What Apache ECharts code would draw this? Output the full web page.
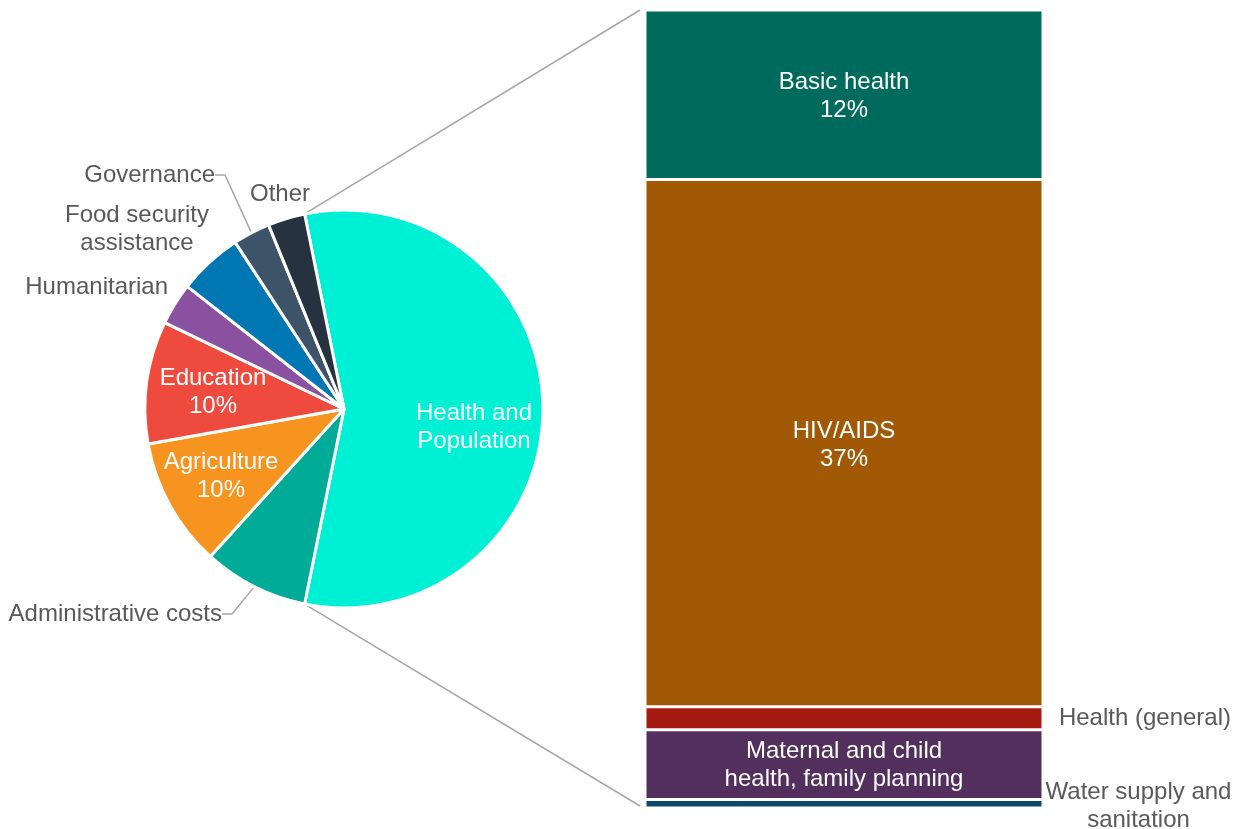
<!DOCTYPE html>
<html>
<head>
<meta charset="utf-8">
<script src="https://cdn.jsdelivr.net/npm/echarts@6/dist/echarts.min.js"></script>
<style>
  html, body { margin: 0; padding: 0; background: #fff; }
  #main { width: 1236px; height: 829px; }
</style>
</head>
<body>
<div id="main"></div>
<script>
// pie: sectors of total aid
var pieNames = ['Health and Population', 'Administrative costs', 'Agriculture', 'Education',
    'Humanitarian', 'Food security assistance', 'Governance', 'Other'];
var pieLabels = ['Health and\nPopulation', 'Administrative costs', 'Agriculture', 'Education',
    'Humanitarian', 'Food security\nassistance', 'Governance', 'Other'];
var pieValues = [56, 8.5, 10.4, 9.9, 3.4, 5.2, 3.0, 3.0];
var pieColors = ['#00F0D6', '#00AC98', '#F79420', '#EF4A3E', '#8A51A1', '#0077B3', '#3D5368', '#26323F'];

// bar: breakdown of health and population (share of total)
var barNames = ['Basic health', 'HIV/AIDS', 'Health (general)', 'Maternal and child\nhealth, family planning', 'Water supply and\nsanitation'];
var barValues = [11.9, 37.0, 1.6, 4.9, 0.6];
var barColors = ['#006B5D', '#A15905', '#A51A11', '#532F5E', '#0B4A68'];

var pieCenter = [344, 409];
var pieRadius = 199;
var gridLeft = 645, gridRight = 193, gridTop = 10, gridBottom = 21;
var fontFamily = 'Liberation Sans, Arial, sans-serif';

var pieTotal = pieValues.reduce(function (a, b) { return a + b; }, 0);
var healthTotal = barValues.reduce(function (a, b) { return a + b; }, 0);
// health slice centred on 3 o'clock
var startAngle = pieValues[0] / pieTotal * 360 / 2;

var labelSpots = [
    {x: 474, y: 427, align: 'center'},
    {x: 222, y: 614, align: 'right'},
    {x: 221, y: 476, align: 'center'},
    {x: 213, y: 392, align: 'center'},
    {x: 168, y: 287, align: 'right'},
    {x: 137, y: 229, align: 'center'},
    {x: 215, y: 175, align: 'right'},
    {x: 280, y: 194, align: 'center'}
];

var inside = [0, 2, 3];
var withLine = [1, 6];

var pieData = pieValues.map(function (v, i) {
    var isIn = inside.indexOf(i) >= 0;
    return {
        name: pieNames[i],
        value: v,
        itemStyle: {color: pieColors[i]},
        label: {
            show: true,
            position: isIn ? 'inside' : 'outside',
            color: isIn ? '#fff' : '#595959',
            formatter: (i === 2 || i === 3) ? pieLabels[i] + '\n' + Math.round(v / pieTotal * 100) + '%' : pieLabels[i]
        },
        labelLine: {show: withLine.indexOf(i) >= 0}
    };
});

var barSeries = barValues.map(function (v, i) {
    var label;
    if (i === 2) {
        label = {show: true, position: ['104%', '50%'], align: 'left', verticalAlign: 'middle',
            color: '#595959', formatter: barNames[i]};
    } else if (i === 4) {
        label = {show: true, position: ['124%', '50%'], align: 'center', verticalAlign: 'middle',
            offset: [0, 3], color: '#595959', formatter: barNames[i]};
    } else if (i === 3) {
        label = {show: true, position: 'inside', color: '#fff', offset: [0, 1], formatter: barNames[i]};
    } else {
        label = {show: true, position: 'inside', color: '#fff', offset: [0, 2],
            formatter: barNames[i] + '\n' + Math.round(v) + '%'};
    }
    label.fontSize = 24;
    label.lineHeight = 28;
    label.fontFamily = fontFamily;
    return {
        name: barNames[i],
        type: 'bar',
        stack: 'health',
        barWidth: '100%',
        data: [v],
        itemStyle: {color: barColors[i], borderColor: '#fff', borderWidth: 1.5},
        label: label,
        emphasis: {disabled: true}
    };
});

var chart = echarts.init(document.getElementById('main'));
var option = {
    animation: false,
    textStyle: {fontFamily: fontFamily, fontSize: 24},
    grid: {left: gridLeft, right: gridRight, top: gridTop, bottom: gridBottom},
    xAxis: {type: 'category', data: ['Health'], show: false},
    yAxis: {type: 'value', min: 0, max: healthTotal, inverse: true, show: false},
    series: [{
        type: 'pie',
        center: pieCenter,
        radius: pieRadius,
        startAngle: startAngle,
        clockwise: true,
        avoidLabelOverlap: false,
        itemStyle: {borderColor: '#fff', borderWidth: 3},
        label: {fontSize: 24, lineHeight: 28, fontFamily: fontFamily},
        labelLine: {lineStyle: {color: '#A6A6A6', width: 1.5}, length: 10, length2: 10},
        labelLayout: function (params) {
            var s = labelSpots[params.dataIndex];
            return {x: s.x, y: s.y, align: s.align, verticalAlign: 'middle'};
        },
        emphasis: {disabled: true},
        data: pieData
    }].concat(barSeries)
};
chart.setOption(option);

// connector lines from the health slice edges to the bar's corners
var a0 = startAngle * Math.PI / 180;
var a1 = (startAngle - pieValues[0] / pieTotal * 360) * Math.PI / 180;
var p0 = [pieCenter[0] + pieRadius * Math.cos(a0), pieCenter[1] - pieRadius * Math.sin(a0)];
var p1 = [pieCenter[0] + pieRadius * Math.cos(a1), pieCenter[1] - pieRadius * Math.sin(a1)];
var yTop = chart.convertToPixel({yAxisIndex: 0}, 0);
var yBot = chart.convertToPixel({yAxisIndex: 0}, healthTotal);
var xBar = gridLeft - 5;
chart.setOption({
    graphic: [
        {type: 'line', shape: {x1: p0[0], y1: p0[1], x2: xBar, y2: yTop},
            style: {stroke: '#A6A6A6', lineWidth: 1.5}, silent: true},
        {type: 'line', shape: {x1: p1[0], y1: p1[1], x2: xBar, y2: yBot - 2},
            style: {stroke: '#A6A6A6', lineWidth: 1.5}, silent: true}
    ]
});
</script>
</body>
</html>
